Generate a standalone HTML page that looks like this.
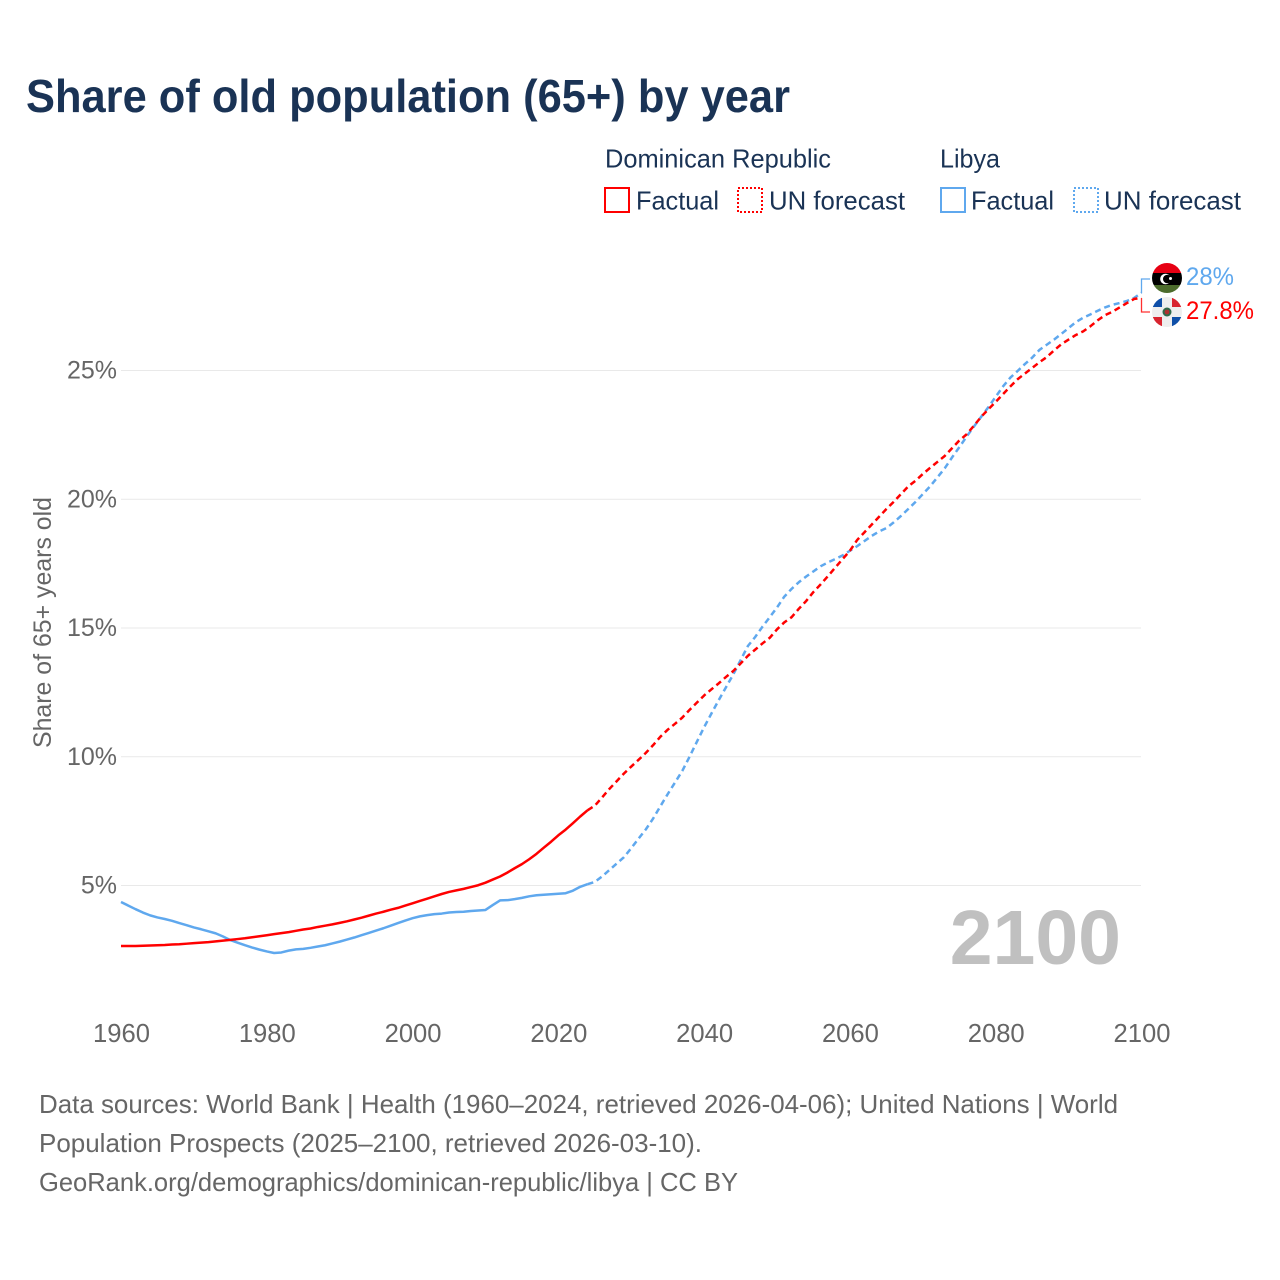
<!DOCTYPE html>
<html lang="en">
<head>
<meta charset="utf-8">
<title>Share of old population (65+) by year</title>
<style>
html,body{margin:0;padding:0;background:#fff;}
svg{display:block;font-family:"Liberation Sans",sans-serif;}
</style>
</head>
<body>
<svg id="chart" width="1280" height="1280" viewBox="0 0 1280 1280" xmlns="http://www.w3.org/2000/svg">
  <defs>
    <clipPath id="clip-ly"><circle cx="1167" cy="278" r="15"/></clipPath>
    <clipPath id="clip-do"><circle cx="1167" cy="312" r="15"/></clipPath>
  </defs>
  <rect width="1280" height="1280" fill="#fff"/>
  <text x="26" y="112" font-size="46" font-weight="700" fill="#1a3355" textLength="764" lengthAdjust="spacingAndGlyphs">Share of old population (65+) by year</text>

  <g font-size="26" fill="#1a3355">
    <text x="605" y="167.5" textLength="226" lengthAdjust="spacingAndGlyphs">Dominican Republic</text>
    <text x="940" y="167.5" textLength="60" lengthAdjust="spacingAndGlyphs">Libya</text>
    <rect x="605" y="188" width="24" height="24" fill="none" stroke="#ff0000" stroke-width="2"/>
    <text x="636" y="209.5" textLength="83" lengthAdjust="spacingAndGlyphs">Factual</text>
    <rect x="738" y="188" width="24" height="24" fill="none" stroke="#ff0000" stroke-width="2" stroke-dasharray="2 2"/>
    <text x="769" y="209.5" textLength="136" lengthAdjust="spacingAndGlyphs">UN forecast</text>
    <rect x="941" y="188" width="24" height="24" fill="none" stroke="#5fa8ee" stroke-width="2"/>
    <text x="971" y="209.5" textLength="83" lengthAdjust="spacingAndGlyphs">Factual</text>
    <rect x="1074" y="188" width="24" height="24" fill="none" stroke="#5fa8ee" stroke-width="2" stroke-dasharray="2 2"/>
    <text x="1104" y="209.5" textLength="137" lengthAdjust="spacingAndGlyphs">UN forecast</text>
  </g>

  <g id="grid"></g>
  <g id="yticks" font-size="25" fill="#666" text-anchor="end"></g>
  <g id="xticks" font-size="25.6" fill="#666" text-anchor="middle"></g>
  <text transform="translate(51,748) rotate(-90)" font-size="25" fill="#666" textLength="251" lengthAdjust="spacingAndGlyphs">Share of 65+ years old</text>

  <text x="1121" y="964" font-size="77" font-weight="700" fill="#c0c0c0" text-anchor="end">2100</text>

  <g id="series"></g>

  <path d="M1141.5 293V279H1150" fill="none" stroke="#5fa8ee" stroke-width="1.3"/>
  <path d="M1141.5 298V312H1150" fill="none" stroke="#ff3030" stroke-width="1.3"/>

  <g clip-path="url(#clip-ly)">
    <rect x="1152" y="263" width="30" height="10" fill="#e70013"/>
    <rect x="1152" y="273" width="30" height="12" fill="#000"/>
    <rect x="1152" y="285" width="30" height="8" fill="#4c6c2c"/>
    <circle cx="1165.5" cy="279" r="5.3" fill="#fff"/>
    <circle cx="1167.3" cy="279" r="4.3" fill="#000"/>
    <circle cx="1170.5" cy="278.5" r="1.5" fill="#fff"/>
  </g>
  <g clip-path="url(#clip-do)">
    <rect x="1152" y="297" width="30" height="30" fill="#eeeeee"/>
    <rect x="1152" y="297" width="10" height="10" fill="#0f4fa8"/>
    <rect x="1172" y="297" width="10" height="10" fill="#d8242f"/>
    <rect x="1152" y="317" width="10" height="10" fill="#d8242f"/>
    <rect x="1172" y="317" width="10" height="10" fill="#0f4fa8"/>
    <circle cx="1167" cy="312" r="4.5" fill="#2f6a4a"/>
    <circle cx="1167" cy="312" r="2.4" fill="#b03030"/>
  </g>
  <text x="1186" y="285" font-size="25" fill="#5fa8ee" textLength="48" lengthAdjust="spacingAndGlyphs">28%</text>
  <text x="1186" y="319" font-size="25" fill="#ff0000" textLength="68" lengthAdjust="spacingAndGlyphs">27.8%</text>

  <g font-size="26" fill="#666">
    <text x="39" y="1113" textLength="1079" lengthAdjust="spacingAndGlyphs">Data sources: World Bank | Health (1960–2024, retrieved 2026-04-06); United Nations | World</text>
    <text x="39" y="1152" textLength="663" lengthAdjust="spacingAndGlyphs">Population Prospects (2025–2100, retrieved 2026-03-10).</text>
    <text x="39" y="1191" textLength="699" lengthAdjust="spacingAndGlyphs">GeoRank.org/demographics/dominican-republic/libya | CC BY</text>
  </g>
</svg>
<script>
const yTickValues = [5, 10, 15, 20, 25];
const xTickValues = [1960, 1980, 2000, 2020, 2040, 2060, 2080, 2100];
const factualStartYear = 1960;
const forecastStartYear = 2024;
const drFactual = [2.65,2.65,2.65,2.66,2.67,2.68,2.69,2.71,2.72,2.74,2.76,2.78,2.80,2.83,2.86,2.89,2.92,2.95,2.99,3.03,3.07,3.11,3.15,3.19,3.24,3.29,3.33,3.39,3.44,3.49,3.55,3.61,3.68,3.75,3.83,3.91,3.98,4.06,4.13,4.22,4.31,4.40,4.49,4.58,4.67,4.75,4.81,4.87,4.94,5.01,5.11,5.23,5.35,5.50,5.67,5.83,6.02,6.23,6.47,6.70,6.95,7.17,7.42,7.68,7.92];
const lyFactual = [4.36,4.22,4.08,3.95,3.84,3.76,3.70,3.63,3.54,3.46,3.37,3.30,3.22,3.14,3.02,2.88,2.78,2.68,2.59,2.51,2.44,2.38,2.40,2.47,2.52,2.54,2.58,2.63,2.68,2.75,2.82,2.90,2.98,3.07,3.16,3.25,3.34,3.44,3.54,3.64,3.73,3.80,3.85,3.89,3.91,3.95,3.97,3.98,4.01,4.03,4.05,4.24,4.42,4.43,4.47,4.52,4.58,4.62,4.64,4.66,4.68,4.70,4.80,4.95,5.05];
const drForecast = [7.92,8.10,8.42,8.75,9.05,9.35,9.62,9.88,10.15,10.45,10.78,11.05,11.28,11.52,11.82,12.10,12.38,12.62,12.85,13.10,13.33,13.62,13.92,14.16,14.40,14.62,14.95,15.22,15.42,15.75,16.05,16.40,16.70,17.02,17.35,17.68,18.00,18.42,18.72,19.02,19.32,19.62,19.90,20.20,20.50,20.72,20.98,21.22,21.45,21.68,21.98,22.28,22.52,22.85,23.20,23.50,23.78,24.08,24.38,24.66,24.88,25.10,25.32,25.52,25.78,26.02,26.20,26.38,26.52,26.72,26.95,27.15,27.28,27.45,27.62,27.78,27.82];
const lyForecast = [5.05,5.14,5.35,5.60,5.85,6.10,6.45,6.82,7.18,7.60,8.08,8.55,9.00,9.45,10.00,10.58,11.15,11.68,12.20,12.70,13.20,13.75,14.30,14.65,15.05,15.42,15.80,16.22,16.52,16.78,17.00,17.20,17.40,17.55,17.68,17.82,18.00,18.18,18.38,18.58,18.75,18.88,19.10,19.35,19.62,19.90,20.20,20.50,20.85,21.20,21.62,22.02,22.43,22.82,23.20,23.58,23.98,24.38,24.72,24.98,25.25,25.50,25.80,26.00,26.20,26.42,26.65,26.88,27.05,27.18,27.32,27.45,27.55,27.62,27.70,27.82,28.02];

const NS = 'http://www.w3.org/2000/svg';
function xScale(year) { return 121 + (year - 1960) * (1141.5 - 121) / 140; }
function yScale(v) { return 885.5 - (v - 5) * 25.75; }
function seriesPath(values, startYear) {
  return values.map(function (v, i) {
    return (i ? 'L' : 'M') + xScale(startYear + i).toFixed(2) + ' ' + yScale(v).toFixed(2);
  }).join('');
}

const grid = document.getElementById('grid');
const yticks = document.getElementById('yticks');
yTickValues.forEach(function (t) {
  const line = document.createElementNS(NS, 'line');
  
  
  line.setAttribute('x1', 121);
  line.setAttribute('x2', 1141);
  line.setAttribute('y1', yScale(t));
  line.setAttribute('y2', yScale(t));
  line.setAttribute('stroke', '#e9e9e9');
  line.setAttribute('stroke-width', 1);
  grid.appendChild(line);
  const label = document.createElementNS(NS, 'text');
  
  
  label.setAttribute('x', 117);
  label.setAttribute('y', yScale(t) + 8);
  label.textContent = t + '%';
  yticks.appendChild(label);
});

const xticks = document.getElementById('xticks');
xTickValues.forEach(function (t) {
  const label = document.createElementNS(NS, 'text');
  
  
  label.setAttribute('x', xScale(t) + 0.5);
  label.setAttribute('y', 1042);
  label.textContent = t;
  xticks.appendChild(label);
});

const seriesGroup = document.getElementById('series');
function drawSeries(name, values, startYear, color, dash) {
  const path = document.createElementNS(NS, 'path');
  
  
  path.setAttribute('d', seriesPath(values, startYear));
  path.setAttribute('fill', 'none');
  path.setAttribute('stroke', color);
  path.setAttribute('stroke-width', 2.5);
  path.setAttribute('stroke-linejoin', 'round');
  if (dash) path.setAttribute('stroke-dasharray', dash);
  seriesGroup.appendChild(path);
}
drawSeries('libya-forecast-line', lyForecast, forecastStartYear, '#5fa8ee', '6 4');
drawSeries('dominican-republic-forecast-line', drForecast, forecastStartYear, '#ff0000', '6 4');
drawSeries('libya-factual-line', lyFactual, factualStartYear, '#5fa8ee');
drawSeries('dominican-republic-factual-line', drFactual, factualStartYear, '#ff0000');
</script>
</body>
</html>
